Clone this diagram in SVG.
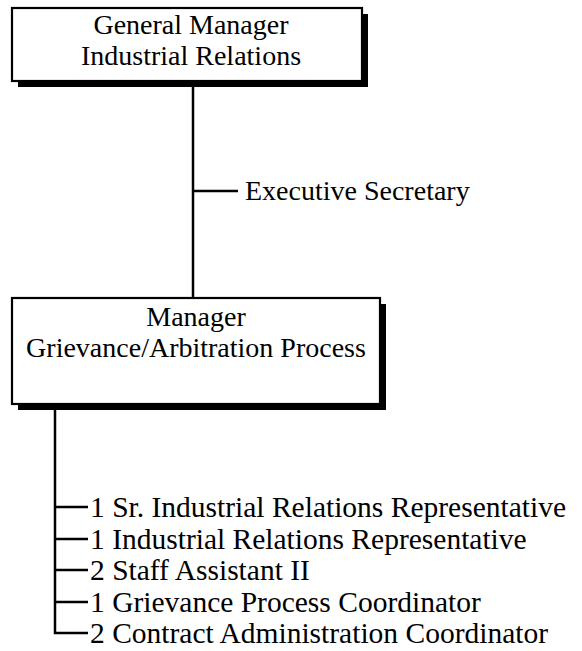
<svg xmlns="http://www.w3.org/2000/svg" width="582" height="651" viewBox="0 0 582 651">
<style>
.box{fill:#fff;stroke:#000;stroke-width:2.2}
.shadow{fill:#000}
.t{font-family:"Liberation Serif","Times New Roman",serif;font-size:28px;fill:#000}
.c{text-anchor:middle}
.l{font-size:29.5px}
.ln{stroke:#000;stroke-width:2.5;fill:none}
</style>
<rect width="582" height="651" fill="#fff"/>
<g id="connectors">
<line class="ln" x1="193" y1="86" x2="193" y2="298"/>
<line class="ln" x1="193" y1="191" x2="238" y2="191"/>
<path class="ln" d="M55,410 V633 H88"/>
<line class="ln" x1="55" y1="507" x2="88" y2="507"/>
<line class="ln" x1="55" y1="539" x2="88" y2="539"/>
<line class="ln" x1="55" y1="570" x2="88" y2="570"/>
<line class="ln" x1="55" y1="602" x2="88" y2="602"/>
</g>
<g id="gm">
<rect class="shadow" x="18" y="14" width="350" height="73"/>
<rect class="box" x="12" y="8" width="350" height="73"/>
<text class="t c" x="191" y="34">General Manager</text>
<text class="t c" x="191" y="65">Industrial Relations</text>
</g>
<g id="exec">
<text class="t" x="245" y="200">Executive Secretary</text>
</g>
<g id="mgr">
<rect class="shadow" x="18" y="304" width="368" height="106"/>
<rect class="box" x="12" y="298" width="368" height="106"/>
<text class="t c" x="196" y="326">Manager</text>
<text class="t c" x="196" y="357">Grievance/Arbitration Process</text>
</g>
<g id="staff">
<text class="t l" x="90" y="517">1 Sr. Industrial Relations Representative</text>
<text class="t l" x="90" y="549">1 Industrial Relations Representative</text>
<text class="t l" x="90" y="580">2 Staff Assistant II</text>
<text class="t l" x="90" y="612">1 Grievance Process Coordinator</text>
<text class="t l" x="90" y="643">2 Contract Administration Coordinator</text>
</g>
</svg>
